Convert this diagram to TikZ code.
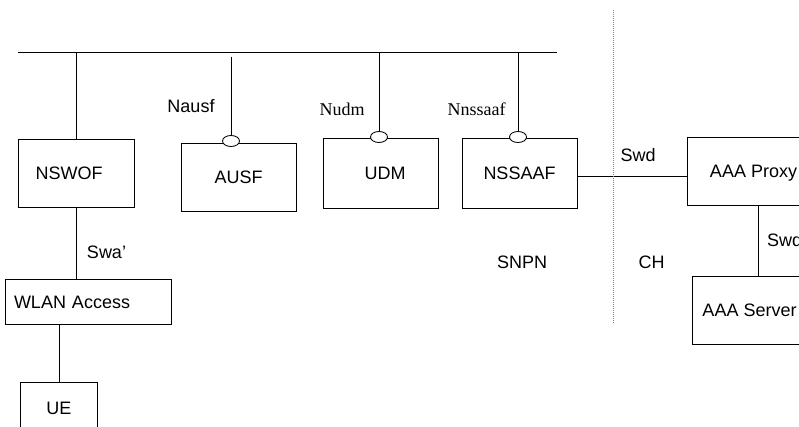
\documentclass[tikz,border=0pt]{standalone}
\usepackage{fontspec}
\setmainfont{Liberation Sans}
\newfontfamily\seriffont{Liberation Serif}
\usetikzlibrary{shapes.geometric}
\begin{document}
\begin{tikzpicture}[x=1pt,y=-1pt,
  every node/.style={font=\fontsize{18}{21}\selectfont, inner sep=0pt},
  t/.style={text height=13pt, text depth=0pt},
  box/.style={draw, line width=0.85pt, fill=white, t},
  ser/.style={font=\seriffont\fontsize{18}{21}\selectfont},
  ln/.style={line width=0.85pt},
  port/.style={draw, ellipse, line width=0.85pt, fill=white, minimum width=17pt, minimum height=11pt, inner sep=0pt}
]
\useasboundingbox (0,0) rectangle (799,427);
\clip (0,0) rectangle (799,427);

% boxes
\node[box, minimum width=116pt, minimum height=68pt] (nswof) at (76,173) {NSWOF\hspace*{14pt}};
\node[box, minimum width=115pt, minimum height=68pt] (ausf) at (238.5,177) {AUSF};
\node[box, minimum width=115pt, minimum height=70pt] (udm) at (380.5,173) {\hspace*{9pt}UDM};
\node[box, minimum width=115pt, minimum height=70pt] (nssaaf) at (519.5,173) {NSSAAF};
\node[box, minimum width=133pt, minimum height=68pt] (proxy) at (753.5,171) {AAA Proxy};
\node[box, minimum width=115pt, minimum height=68pt] (server) at (749.5,310) {AAA Server};
\node[box, minimum width=166pt, minimum height=45pt, text width=148pt, inner xsep=9pt, align=left] (wlan) at (88,301.5) {WLAN Access};
\node[box, minimum width=77pt, minimum height=52pt] (ue) at (59,408) {UE};

% service ports
\node[port] (pausf) at (231,141) {};
\node[port] (pudm) at (379,137) {};
\node[port] (pnss) at (518,137) {};

% bus
\coordinate (busL) at (18,52);
\coordinate (busR) at (557,52);
\coordinate (ausfbus) at (231,57);
\draw[ln] (busL) -- (busR);
\draw[ln] (nswof.north) -- (nswof.north |- busL);
\draw[ln] (ausfbus) -- (pausf.north);
\draw[ln] (pudm.north) -- (pudm.north |- busL);
\draw[ln] (pnss.north) -- (pnss.north |- busL);

% other connectors
\draw[ln] (nswof.south) -- (nswof.south |- wlan.north);
\draw[ln] (ue.north |- wlan.south) -- (ue.north);
\draw[ln] ([yshift=-3pt]nssaaf.east) -- ([yshift=-3pt]nssaaf.east -| proxy.west);
\coordinate (sx) at (758,0);
\draw[ln] (proxy.south -| sx) -- (server.north -| sx);

% domain border
\coordinate (dtop) at (613,10);
\coordinate (dbot) at (613,323);
\draw[gray, line width=0.9pt, dash pattern=on 1pt off 1pt] (dtop) -- (dbot);

% labels
\node[t] (lnausf) at (191,106) {Nausf};
\node[t,ser] (lnudm) at (342,109) {Nudm};
\node[t,ser] (lnnss) at (476.5,109) {Nnssaaf};
\node[t] (lswa) at (106.5,252) {Swa’};
\node[t] (lsnpn) at (522,262) {SNPN};
\node[t] (lch) at (651.5,262) {CH};
\node[t] (lswd) at (638,155) {Swd};
\node[t, anchor=west] (lswd2) at (767,240) {Swd};
\end{tikzpicture}
\end{document}
